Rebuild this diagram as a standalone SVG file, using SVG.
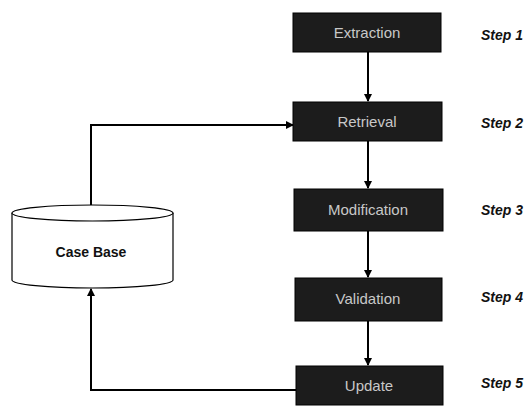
<svg xmlns="http://www.w3.org/2000/svg" width="530" height="411" viewBox="0 0 530 411">
<defs>
<marker id="ah" markerWidth="8" markerHeight="8" refX="7" refY="4" orient="auto" markerUnits="userSpaceOnUse">
<path d="M0,0 L8,4 L0,8 Z" fill="#000"/>
</marker>
<style>
.box{fill:#1c1c1c;stroke:#000;stroke-width:1}
.lbl{font-family:"Liberation Sans",Arial,sans-serif;font-size:15px;fill:#c8c8c8;text-anchor:middle}
.step{font-family:"Liberation Sans",Arial,sans-serif;font-size:14px;font-weight:bold;font-style:italic;fill:#111}
.con{fill:none;stroke:#000;stroke-width:2;marker-end:url(#ah)}
.cyl{fill:#fff;stroke:#000;stroke-width:1.2}
.cb{font-family:"Liberation Sans",Arial,sans-serif;font-size:14px;font-weight:bold;fill:#111;text-anchor:middle}
</style>
</defs>
<rect width="530" height="411" fill="#fff"/>
<g id="connectors">
<path class="con" d="M368,52 V101"/>
<path class="con" d="M368,141 V188"/>
<path class="con" d="M368,231 V277"/>
<path class="con" d="M368,321 V365"/>
<path class="con" d="M91,206 V125 H293"/>
<path class="con" d="M296,390 H91 V289"/>
</g>
<g id="step1">
<rect class="box" x="293" y="13" width="148" height="39"/>
<text class="lbl" x="367" y="38">Extraction</text>
<text class="step" x="481" y="40">Step 1</text>
</g>
<g id="step2">
<rect class="box" x="293" y="102" width="149" height="39"/>
<text class="lbl" x="367" y="127">Retrieval</text>
<text class="step" x="481" y="128">Step 2</text>
</g>
<g id="step3">
<rect class="box" x="294" y="189" width="149" height="42"/>
<text class="lbl" x="368" y="215">Modification</text>
<text class="step" x="481" y="215">Step 3</text>
</g>
<g id="step4">
<rect class="box" x="295" y="278" width="147" height="43"/>
<text class="lbl" x="368" y="304">Validation</text>
<text class="step" x="481" y="302">Step 4</text>
</g>
<g id="step5">
<rect class="box" x="296" y="366" width="147" height="39"/>
<text class="lbl" x="369" y="391">Update</text>
<text class="step" x="481" y="388">Step 5</text>
</g>
<g id="casebase">
<path class="cyl" d="M12,213 V280 A80.5,8 0 0 0 173,280 V213"/>
<ellipse class="cyl" cx="92.5" cy="213" rx="80.5" ry="8"/>
<text class="cb" x="91" y="257">Case Base</text>
</g>
</svg>
